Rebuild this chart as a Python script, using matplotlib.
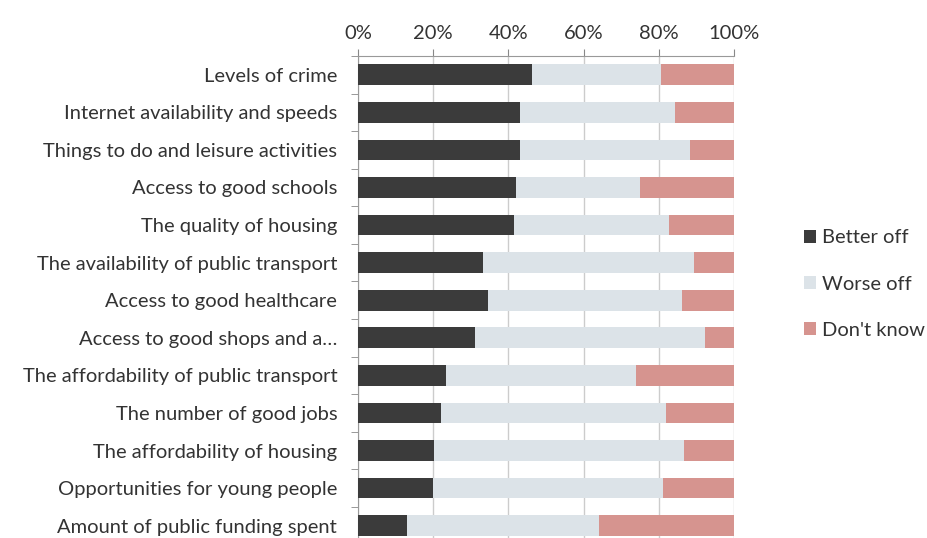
import matplotlib.pyplot as plt
import numpy as np

categories = [
    "Levels of crime",
    "Internet availability and speeds",
    "Things to do and leisure activities",
    "Access to good schools",
    "The quality of housing",
    "The availability of public transport",
    "Access to good healthcare",
    "Access to good shops and a\u2026",
    "The affordability of public transport",
    "The number of good jobs",
    "The affordability of housing",
    "Opportunities for young people",
    "Amount of public funding spent",
]
better_off = [46.3, 43.2, 43.2, 42.0, 41.4, 33.2, 34.5, 31.2, 23.4, 22.0, 20.3, 19.9, 13.1]
worse_off = [34.4, 41.2, 45.1, 33.1, 41.2, 56.1, 51.8, 61.2, 50.6, 59.9, 66.3, 61.3, 51.1]
dont_know = [19.3, 15.6, 11.7, 24.9, 17.4, 10.7, 13.7, 7.6, 26.0, 18.1, 13.4, 18.8, 35.8]
series_names = ["Better off", "Worse off", "Don't know"]
colors = ["#3b3b3b", "#dce3e8", "#d6948f"]

plt.rcParams['font.family'] = ['Lato', 'DejaVu Sans']
fs = 14.5

fig = plt.figure(figsize=(9.28, 5.38), dpi=100)
ax = fig.add_axes([358 / 928, -0.012, 376 / 928, 0.908])

y = np.arange(len(categories))
left = np.zeros(len(categories))
for vals, name, c in zip([better_off, worse_off, dont_know], series_names, colors):
    ax.barh(y, vals, left=left, height=0.55, color=c, label=name, zorder=3)
    left += np.array(vals)

ax.set_xlim(0, 100)
ax.set_ylim(len(categories) - 0.5, -0.5)
ax.xaxis.tick_top()
ax.set_xticks(np.arange(0, 101, 20))
ax.set_xticklabels([f"{v}%" for v in range(0, 101, 20)], fontsize=fs, color="#333333")
ax.tick_params(axis='x', length=5, color="#888888", pad=5)

ax.set_yticks(y)
ax.set_yticklabels(categories, fontsize=fs, color="#333333")
ax.set_yticks(np.arange(-0.5, len(categories), 1), minor=True)
ax.tick_params(axis='y', which='major', length=0, pad=15)
ax.tick_params(axis='y', which='minor', length=5, color="#888888")

ax.grid(axis='x', color="#cccccc", linewidth=1, zorder=0)
for s in ['right', 'bottom']:
    ax.spines[s].set_visible(False)
for s in ['top', 'left']:
    ax.spines[s].set_color("#999999")

fig.legend(loc='center left', bbox_to_anchor=(804 / 928, 0.472), frameon=False,
           borderpad=0, borderaxespad=0,
           fontsize=fs, labelspacing=1.45, handlelength=0.6, handleheight=0.6,
           handletextpad=0.3, labelcolor="#333333")

fig.savefig("out.png", dpi=100)
